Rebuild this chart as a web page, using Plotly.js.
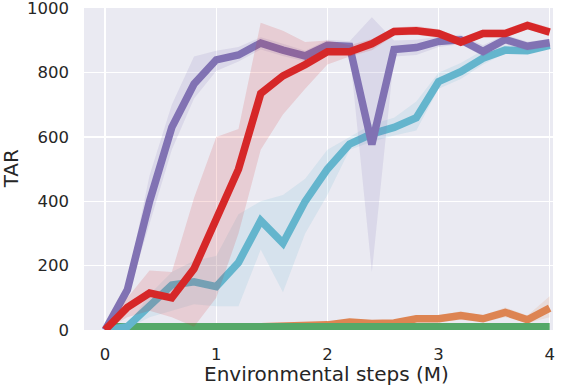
<!DOCTYPE html>
<html>
<head>
<meta charset="utf-8">
<script src="https://cdn.plot.ly/plotly-3.0.1.min.js"></script>
<style>
  html, body { margin: 0; padding: 0; background: #fff; }
  #chart { width: 571px; height: 387px; }
</style>
</head>
<body>
<div id="chart"></div>
<script>
// environmental steps (M)
const steps = [0, 0.2, 0.4, 0.6, 0.8, 1.0, 1.2, 1.4, 1.6, 1.8, 2.0, 2.2, 2.4, 2.6, 2.8, 3.0, 3.2, 3.4, 3.6, 3.8, 4.0];

// purple
const purpleMean = [0, 125, 400, 630, 765, 840, 855, 892, 870, 852, 885, 882, 577, 872, 878, 897, 902, 866, 903, 882, 893];
const purpleLow  = [0, 100, 330, 560, 720, 805, 835, 872, 852, 835, 868, 868, 180, 850, 855, 880, 888, 850, 888, 868, 882];
const purpleHigh = [0, 150, 480, 700, 850, 868, 880, 910, 890, 868, 902, 898, 972, 900, 902, 912, 918, 885, 918, 896, 905];

// red
const redMean = [0, 70, 115, 100, 190, 350, 500, 735, 790, 825, 865, 865, 890, 928, 930, 922, 895, 922, 922, 947, 926];
const redLow  = [0, 40, 60, 40, 10, 100, 300, 560, 670, 750, 825, 850, 870, 915, 918, 908, 885, 910, 910, 935, 915];
const redHigh = [0, 100, 185, 180, 410, 600, 625, 955, 930, 895, 900, 885, 905, 940, 945, 935, 908, 935, 935, 960, 940];

// cyan
const cyanMean = [0, 10, 75, 140, 150, 135, 210, 340, 270, 400, 500, 578, 610, 630, 660, 772, 803, 845, 870, 868, 885];
const cyanLow  = [0, 5, 40, 60, 80, 74, 74, 250, 117, 300, 420, 560, 585, 605, 620, 750, 780, 825, 860, 860, 875];
const cyanHigh = [0, 15, 110, 180, 215, 230, 360, 400, 420, 470, 560, 600, 640, 660, 710, 800, 830, 870, 885, 880, 895];

// orange
const orangeMean = [5, 8, 8, 8, 10, 10, 10, 10, 12, 14, 16, 25, 20, 22, 35, 35, 45, 35, 55, 32, 68];
const orangeLow  = [3, 5, 5, 5, 6, 6, 6, 6, 8, 10, 10, 18, 14, 16, 25, 25, 32, 25, 40, 22, 40];
const orangeHigh = [8, 12, 12, 12, 14, 14, 14, 14, 16, 18, 22, 32, 26, 28, 45, 45, 58, 45, 70, 45, 105];

// green
const greenMean = [10, 10, 10, 10, 10, 10, 10, 10, 10, 10, 10, 10, 10, 10, 10, 10, 10, 10, 10, 10, 10];
const greenLow  = [8, 8, 8, 8, 8, 8, 8, 8, 8, 8, 8, 8, 8, 8, 8, 8, 8, 8, 8, 8, 8];
const greenHigh = [12, 12, 12, 12, 12, 12, 12, 12, 12, 12, 12, 12, 12, 12, 12, 12, 12, 12, 12, 12, 12];

const yTicks = [0, 200, 400, 600, 800, 1000];
const xTicks = [0, 1, 2, 3, 4];

function series(mean, low, high, rgb) {
    return [
        { x: steps, y: low, mode: "lines", line: { width: 0 }, hoverinfo: "skip", showlegend: false },
        { x: steps, y: high, mode: "lines", line: { width: 0 }, fill: "tonexty",
          fillcolor: "rgba(" + rgb + ",0.15)", hoverinfo: "skip", showlegend: false },
        { x: steps, y: mean, mode: "lines", line: { width: 7.5, color: "rgb(" + rgb + ")" }, showlegend: false }
    ];
}

const data = [].concat(
    series(orangeMean, orangeLow, orangeHigh, "221,132,82"),
    series(greenMean, greenLow, greenHigh, "85,168,104"),
    series(cyanMean, cyanLow, cyanHigh, "100,181,205"),
    series(purpleMean, purpleLow, purpleHigh, "129,114,179"),
    series(redMean, redLow, redHigh, "214,39,40")
);

const tickFont = { family: "DejaVu Sans", size: 16.5, color: "#262626" };
const titleFont = { family: "DejaVu Sans", size: 20, color: "#262626" };

const layout = {
    width: 571,
    height: 387,
    margin: { l: 84, r: 18, t: 8, b: 57 },
    paper_bgcolor: "#ffffff",
    plot_bgcolor: "#eaeaf2",
    showlegend: false,
    xaxis: {
        range: [-0.19, 4.03],
        tickvals: xTicks,
        showgrid: true,
        gridcolor: "#ffffff",
        gridwidth: 1.3,
        zeroline: false,
        showline: false,
        ticks: "",
        ticklabelstandoff: 12,
        ticklabeloverflow: "allow",
        tickfont: tickFont
    },
    yaxis: {
        range: [0, 1001],
        tickvals: yTicks,
        showgrid: true,
        gridcolor: "#ffffff",
        gridwidth: 1.3,
        zeroline: false,
        showline: false,
        ticks: "",
        ticklabelstandoff: 14,
        ticklabeloverflow: "allow",
        tickfont: tickFont
    },
    annotations: [
        { text: "Environmental steps (M)", xref: "paper", yref: "paper",
          x: 0.517, y: -0.138, xanchor: "center", yanchor: "middle", showarrow: false,
          font: titleFont },
        { text: "TAR", xref: "paper", yref: "paper",
          x: -0.155, y: 0.5, xanchor: "center", yanchor: "middle", showarrow: false, textangle: -90,
          font: titleFont }
    ]
};

Plotly.newPlot("chart", data, layout, { displayModeBar: false, staticPlot: true });
</script>
</body>
</html>
